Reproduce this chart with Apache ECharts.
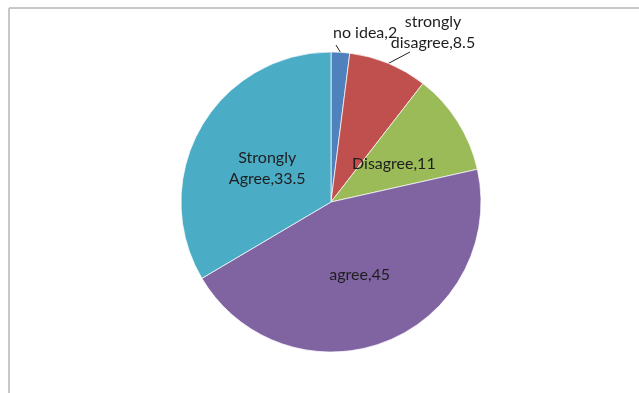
<!DOCTYPE html>
<html>
<head>
<meta charset="utf-8">
<script src="https://cdn.jsdelivr.net/npm/echarts@6/dist/echarts.min.js"></script>
<style>
  html, body { margin: 0; padding: 0; background: #fff; }
  #chart { width: 639px; height: 393px; }
</style>
</head>
<body>
<div id="chart"></div>
<script>
// Survey response shares (percent), in clockwise order from 12 o'clock
const categories = ['no idea', 'strongly\ndisagree', 'Disagree', 'agree', 'Strongly\nAgree'];
const values = [2, 8.5, 11, 45, 33.5];
const colors = ['#4F81BD', '#C0504D', '#9BBB59', '#8064A2', '#4BACC6'];
// labels for the two thin slices sit outside the pie with leader lines
const outsideLabels = [true, true, false, false, false];
// small nudges for the inside labels
const insideOffsets = [null, null, [-3, 4], [0, 0], [4, 5]];

const chart = echarts.init(document.getElementById('chart'), null, { renderer: 'canvas' });

const labelFont = { fontFamily: 'Lato', fontSize: 16, color: '#1e1e1e', lineHeight: 21 };

const data = categories.map((name, i) => ({
  name: name,
  value: values[i],
  itemStyle: { color: colors[i] },
  label: outsideLabels[i]
    ? Object.assign({ position: 'outside', show: true }, labelFont)
    : Object.assign({ position: 'inside', show: true, offset: insideOffsets[i] }, labelFont),
  labelLine: { show: outsideLabels[i], length: 6, length2: 4, lineStyle: { color: '#222', width: 1 } }
}));

// where each outside label block sits, and where its leader line ends
const outsideAnchors = {
  0: { x: 333, y: 33, align: 'left', end: [336, 45] },
  1: { x: 433, y: 32, align: 'center', end: [410, 52] }
};

chart.setOption({
  backgroundColor: '#fff',
  animation: false,
  graphic: [
    { type: 'line', shape: { x1: 9, y1: 8, x2: 639, y2: 8 }, style: { stroke: '#c8c8c8', lineWidth: 2 } },
    { type: 'line', shape: { x1: 9, y1: 8, x2: 9, y2: 393 }, style: { stroke: '#c8c8c8', lineWidth: 2 } }
  ],
  series: [{
    type: 'pie',
    center: [331, 202],
    radius: [0, 150],
    startAngle: 90,
    clockwise: true,
    avoidLabelOverlap: false,
    itemStyle: { borderColor: '#ffffff', borderWidth: 0.7 },
    label: {
      formatter: p => p.name + ',' + p.value
    },
    labelLayout: function (params) {
      const a = outsideAnchors[params.dataIndex];
      if (!a) return {};
      const start = params.labelLinePoints ? params.labelLinePoints[0] : a.end;
      return {
        x: a.x, y: a.y, align: a.align, verticalAlign: 'middle',
        labelLinePoints: [start, a.end, a.end]
      };
    },
    data: data
  }]
});
</script>
</body>
</html>
